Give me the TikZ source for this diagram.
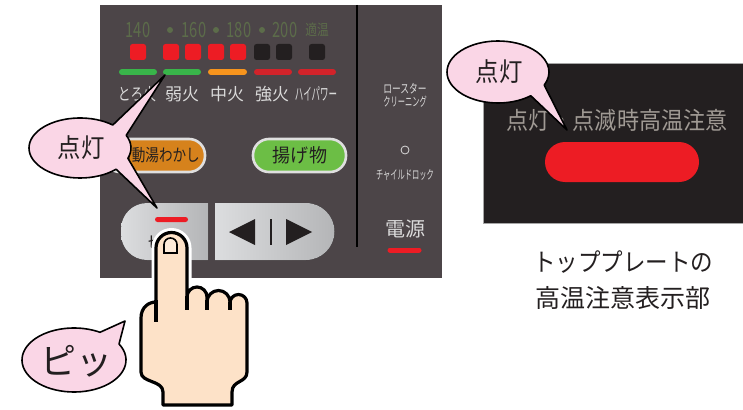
\documentclass[tikz,border=0pt]{standalone}
\usepackage{fontspec}
\usepackage{graphicx}
\setmainfont{Noto Sans CJK JP}
\usetikzlibrary{calc}
\definecolor{panel}{RGB}{76,69,72}
\definecolor{plate}{RGB}{35,31,32}
\definecolor{numcol}{RGB}{92,108,74}
\definecolor{lbl}{RGB}{218,218,218}
\definecolor{lampred}{RGB}{237,28,36}
\definecolor{lampoff}{RGB}{35,31,32}
\definecolor{bargreen}{RGB}{57,181,74}
\definecolor{barorange}{RGB}{247,148,29}
\definecolor{barred}{RGB}{210,35,42}
\definecolor{btnorange}{RGB}{214,130,28}
\definecolor{btngreen}{RGB}{108,190,69}
\definecolor{btnlight}{RGB}{220,221,223}
\definecolor{btndark}{RGB}{180,181,183}
\definecolor{platetext}{RGB}{160,154,148}
\definecolor{pinkfill}{RGB}{250,214,230}
\definecolor{skin}{RGB}{253,226,200}
\definecolor{ink}{RGB}{35,31,32}
\newcommand{\fs}[1]{\fontsize{#1}{#1}\selectfont}
\newcommand{\narrow}[2]{\scalebox{#1}[1]{#2}}
\begin{document}
\begin{tikzpicture}[x=1pt,y=1pt,yscale=-1,
  txt/.style={inner sep=0pt, outer sep=0pt},
  numtxt/.style={txt, text=numcol, font=\fs{21}},
  heat/.style={txt, text=lbl, font=\fs{17}},
  sidetxt/.style={txt, text=lbl, font=\fs{12.5}},
  pill/.style={draw=gray!25, line width=2.6pt, rounded corners=16pt},
  bubble/.style={fill=pinkfill, draw=black, line width=1.6pt, line join=round},
  bubbletxt/.style={txt, text=ink, font=\fs{26}},
  handline/.style={draw=black, line width=3.2pt, line cap=round, line join=round}]
\useasboundingbox (0,0) rectangle (743,409);

% ---------- control panel ----------
\fill[panel] (100,5) rectangle (442,278);
\draw[black, line width=2.4pt] (357,5) -- (357,247);

% temperature scale
\node[numtxt] (t140) at (138,30) {\narrow{0.7}{140}};
\node[numtxt] (t160) at (194,30) {\narrow{0.7}{160}};
\node[numtxt] (t180) at (239,30) {\narrow{0.7}{180}};
\node[numtxt] (t200) at (285,30) {\narrow{0.7}{200}};
\node[txt, text=numcol, font=\fs{15}] (tok) at (317,30) {\narrow{0.78}{適温}};
\foreach \x in {170,216,262} \fill[numcol] (\x,30) circle (3);

% indicator lamps
\foreach \x/\c in {138/lampred,171/lampred,193/lampred,216/lampred,238/lampred,262/lampoff,284/lampoff,317/lampoff}
  \fill[\c, rounded corners=2.5pt] (\x-8,44) rectangle (\x+8,60);

% power level bars
\foreach \a/\b/\c in {119/157/bargreen,163/201/bargreen,208/247/barorange,254/292/barred,298/336/barred}
  \draw[\c, line width=6pt, line cap=round] (\a+3,72) -- (\b-3,72);

\node[heat] (toro) at (137,94) {\narrow{0.75}{とろ火}};
\node[heat] (jaku) at (182,94) {弱火};
\node[heat] (chu) at (227,94) {中火};
\node[heat] (kyo) at (272,94) {強火};
\node[heat] (hp) at (316,94) {\narrow{0.5}{ハイパワー}};

% mode buttons
\draw[pill, fill=btnorange] (104,139) rectangle (205,172);
\node[txt, text=ink, font=\fs{17}] (yuwakashi) at (159,155) {\narrow{0.8}{自動湯わかし}};
\draw[pill, fill=btngreen] (253,139) rectangle (346,172);
\node[txt, text=ink, font=\fs{19}] (agemono) at (300,155) {\narrow{0.95}{揚げ物}};

% on/off and adjust buttons
\fill[left color=btnlight, right color=btndark]
  (208,203) -- (147,203) arc[start angle=270, end angle=180, radius=26]
  -- (121,234) arc[start angle=180, end angle=90, radius=26] -- (208,260) -- cycle;
\fill[lampred, rounded corners=2.5pt] (155,217) rectangle (188,222);
\node[txt, text=ink, font=\fs{18}] (kiri) at (170,245) {切/入};
\fill[left color=btnlight, right color=btndark]
  (215,203) -- (306,203) arc[start angle=270, end angle=450, radius=28.5] -- (215,260) -- cycle;
\fill[ink] (229,232) -- (255,219) -- (255,245) -- cycle;
\draw[ink, line width=2pt] (271,219) -- (271,245);
\fill[ink] (312,232) -- (286,219) -- (286,245) -- cycle;

% right column
\node[sidetxt] (roaster) at (405,89) {\narrow{0.7}{ロースター}};
\node[sidetxt] (cleaning) at (405,102) {\narrow{0.58}{クリーニング}};
\draw[lbl, line width=0.8pt] (405,150) circle (4);
\node[sidetxt] (childlock) at (405,175) {\narrow{0.58}{チャイルドロック}};
\node[txt, text=lbl, font=\fs{20}] (dengen) at (405,229) {電源};
\draw[lampred, line width=5pt, line cap=round] (390,250) -- (419,250);

% ---------- top plate warning display ----------
\fill[plate, draw=gray!70, line width=0.8pt] (483,63) rectangle (743,223);
\node[txt, text=platetext, font=\fs{24}] (warn) at (617,120) {\narrow{0.92}{点灯・点滅時高温注意}};
\fill[lampred, rounded corners=20pt] (545,142) rectangle (699,182);

\node[txt, text=ink, font=\fs{25}] (cap1) at (623,262) {\narrow{0.9}{トッププレートの}};
\node[txt, text=ink, font=\fs{25}] (cap2) at (623,298) {高温注意表示部};

% ---------- pressing hand ----------
\path[draw=white, line width=9pt, line join=round]
  (156,302) -- (156,248) arc[start angle=180, end angle=360, radius=15.5] -- (187,290);
\path[fill=skin, handline]
  (156,302) -- (156,248) arc[start angle=180, end angle=360, radius=15.5]
  -- (187,297) arc[start angle=180, end angle=360, radius=10]
  -- (207,302) arc[start angle=180, end angle=360, radius=11.5]
  -- (230,303) arc[start angle=180, end angle=360, radius=8.5]
  -- (247,372) .. controls (247,383) and (232,380) .. (232,392) -- (232,405)
  -- (163,405) -- (163,392) .. controls (163,380) and (141,383) .. (141,372)
  -- (141,318) .. controls (141,307) and (149,302) .. (156,302) -- cycle;
\draw[handline, line cap=butt] (156,300) -- (156,322);
\draw[handline, line cap=butt] (187,296) -- (187,310);
\draw[handline, line cap=butt] (207,300) -- (207,310);
\draw[handline, line cap=butt] (230,302) -- (230,310);
\draw[fill=skin!70!white, draw=black, line width=1.6pt]
  (164,253) -- (164,244.5) arc[start angle=180, end angle=360, radius=6.5] -- (177,253) -- cycle;

% ---------- speech bubbles ----------
\draw[bubble]
  ($(80,148)+(45:51 and 30)$) arc[start angle=45, end angle=310, x radius=51, y radius=30]
  -- (165,75) -- ($(80,148)+(335:51 and 30)$)
  arc[start angle=335, end angle=380, x radius=51, y radius=30]
  -- (157,208) -- cycle;
\node[bubbletxt] (lit1) at (81,148) {\narrow{0.9}{点灯}};

\draw[bubble]
  ($(498,72)+(50:51 and 31)$) arc[start angle=50, end angle=385, x radius=51, y radius=31]
  -- (567,130) -- cycle;
\node[bubbletxt] (lit2) at (499,72) {\narrow{0.9}{点灯}};

\draw[bubble]
  ($(74,360)+(330:52 and 32)$) arc[start angle=330, end angle=660, x radius=52, y radius=32]
  -- (125,321) -- cycle;
\node[txt, text=ink, font=\fs{36}] (pip) at (76,361) {ピッ};
\end{tikzpicture}
\end{document}
